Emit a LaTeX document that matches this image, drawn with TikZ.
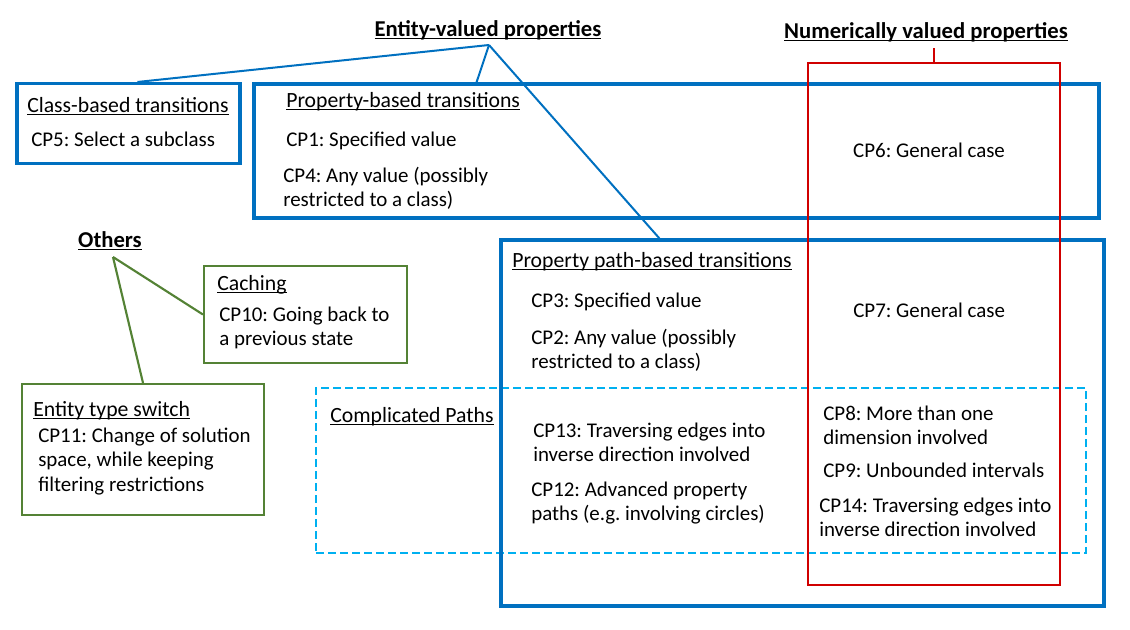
\documentclass[tikz,border=0pt]{standalone}
\usepackage{fontspec}
\setmainfont{Carlito}
\usetikzlibrary{calc}
\frenchspacing
\definecolor{obl}{HTML}{0070C0}
\definecolor{ored}{HTML}{D00000}
\definecolor{ogr}{HTML}{548235}
\definecolor{ocy}{HTML}{00B0F0}
\newcommand\ulin[2][0.75pt]{\setbox0\hbox{#2}\rlap{\rule[-2.4pt]{\wd0}{#1}}\box0}
\newcommand\twoln[2]{\vtop{\hbox{#1}\hbox{#2}}}
\newcommand\threeln[3]{\vtop{\hbox{#1}\hbox{#2}\hbox{#3}}}
\tikzset{
  body/.style={anchor=base west, inner sep=0pt, font=\fontsize{15.7pt}{18.4pt}\selectfont},
  bodyc/.style={anchor=base, inner sep=0pt, font=\fontsize{15.7pt}{18.4pt}\selectfont},
  subt/.style={anchor=base west, inner sep=0pt, font=\fontsize{16.3pt}{19pt}\selectfont},
  head/.style={anchor=base, inner sep=0pt, font=\fontsize{17pt}{20pt}\selectfont\bfseries},
  bluebox/.style={draw=obl, line width=2.3pt, inner sep=0pt},
  greenbox/.style={draw=ogr, line width=1.6pt, inner sep=0pt},
  redbox/.style={draw=ored, line width=1.1pt, inner sep=0pt},
  dashbox/.style={draw=ocy, line width=1.6pt, dash pattern=on 6pt off 3pt, inner sep=0pt},
  blueline/.style={draw=obl, line width=1.5pt},
  greenline/.style={draw=ogr, line width=1.6pt},
  redline/.style={draw=ored, line width=1.5pt},
}
\begin{document}
\begin{tikzpicture}[x=0.75pt, y=-0.75pt]
\useasboundingbox (0,0) rectangle (1130,629);
% boxes
\node[dashbox, minimum width=577.5pt, minimum height=123.75pt] (cpx) at (701,470.5) {};
\node[bluebox, minimum width=167.25pt, minimum height=60pt] (cls) at (128.5,123.5) {};
\node[bluebox, minimum width=633.75pt, minimum height=100.5pt] (prop) at (676.5,151) {};
\node[bluebox, minimum width=452.25pt, minimum height=274.5pt] (path) at (802.5,423) {};
\node[redbox, minimum width=189pt, minimum height=391.5pt] (num) at (934,324) {};
\node[greenbox, minimum width=152.25pt, minimum height=72.75pt] (cach) at (305.5,314.5) {};
\node[greenbox, minimum width=181.5pt, minimum height=98.25pt] (ets) at (143,449.5) {};
% titles
\node[head] (evt) at (488,36) {\ulin[1.1pt]{Entity-valued properties}};
\node[head] (nvt) at (926,38) {\ulin[1.1pt]{Numerically valued properties}};
\node[head] (oth) at (110,247) {\ulin[1.1pt]{Others}};
% connectors
\coordinate (evap) at (489,45);
\coordinate (nvap) at (934,48);
\coordinate (otap) at (113,257);
\draw[blueline] (evap) -- ([xshift=91.5pt]cls.north west);
\draw[blueline] (evap) -- ([xshift=168pt]prop.north west);
\draw[blueline] (evap) -- ([xshift=120pt]path.north west);
\draw[redline] (nvap) -- (num.north);
\draw[greenline] (otap) -- (cach.west);
\draw[greenline] (otap) -- (ets.north);
% class-based
\node[subt] (clst) at (27,112) {\ulin{Class-based transitions}};
\node[body] (cp5) at (31,146) {CP5: Select a subclass};
% property-based
\node[subt] (propt) at (286,107) {\ulin{Property-based transitions}};
\node[body] (cp1) at (286,146) {CP1: Specified value};
\node[body] (cp4) at (283,182) {\twoln{CP4: Any value (possibly}{restricted to a class)}};
\node[bodyc] (cp6) at (929,157) {CP6: General case};
% path-based
\node[subt] (patht) at (512,267) {\ulin{Property path-based transitions}};
\node[body] (cp3) at (531,307) {CP3: Specified value};
\node[body] (cp2) at (531,344) {\twoln{CP2: Any value (possibly}{restricted to a class)}};
\node[body] (cp7) at (853,317) {CP7: General case};
% complicated
\node[subt] (cpxt) at (330,422) {\ulin{Complicated Paths}};
\node[body] (cp13) at (533,437) {\twoln{CP13: Traversing edges into}{inverse direction involved}};
\node[body] (cp12) at (531,496) {\twoln{CP12: Advanced property}{paths (e.g. involving circles)}};
\node[body] (cp8) at (823,420) {\twoln{CP8: More than one}{dimension involved}};
\node[body] (cp9) at (823,477) {CP9: Unbounded intervals};
\node[body] (cp14) at (819,512) {\twoln{CP14: Traversing edges into}{inverse direction involved}};
% others
\node[subt] (cacht) at (217,290) {\ulin{Caching}};
\node[body] (cp10) at (219,321) {\twoln{CP10: Going back to}{a previous state}};
\node[subt] (etst) at (33,416) {\ulin{Entity type switch}};
\node[body] (cp11) at (38,442) {\threeln{CP11: Change of solution}{space, while keeping}{filtering restrictions}};
\end{tikzpicture}
\end{document}
